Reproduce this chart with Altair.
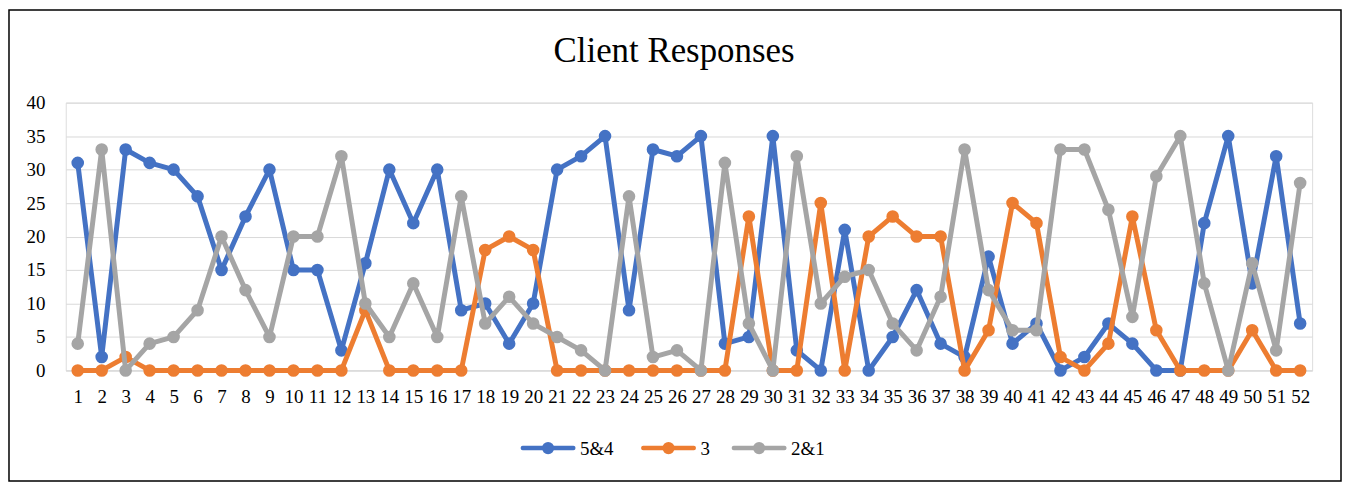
import altair as alt
import pandas as pd

points = list(range(1, 53))
s54 = [31, 2, 33, 31, 30, 26, 15, 23, 30, 15, 15, 3, 16, 30, 22, 30, 9, 10, 4, 10,
       30, 32, 35, 9, 33, 32, 35, 4, 5, 35, 3, 0, 21, 0, 5, 12, 4, 2, 17, 4,
       7, 0, 2, 7, 4, 0, 0, 22, 35, 13, 32, 7]
s3 = [0, 0, 2, 0, 0, 0, 0, 0, 0, 0, 0, 0, 9, 0, 0, 0, 0, 18, 20, 18,
      0, 0, 0, 0, 0, 0, 0, 0, 23, 0, 0, 25, 0, 20, 23, 20, 20, 0, 6, 25,
      22, 2, 0, 4, 23, 6, 0, 0, 0, 6, 0, 0]
s21 = [4, 33, 0, 4, 5, 9, 20, 12, 5, 20, 20, 32, 10, 5, 13, 5, 26, 7, 11, 7,
       5, 3, 0, 26, 2, 3, 0, 31, 7, 0, 32, 10, 14, 15, 7, 3, 11, 33, 12, 6,
       6, 33, 33, 24, 8, 29, 35, 13, 0, 16, 3, 28]
series_names = ["5&4", "3", "2&1"]
series_colors = ["#4472C4", "#ED7D31", "#A5A5A5"]
y_ticks = [0, 5, 10, 15, 20, 25, 30, 35, 40]

rows = []
for name, vals in zip(series_names, [s54, s3, s21]):
    for p, v in zip(points, vals):
        rows.append({"Point": p, "Series": name, "Value": v})
df = pd.DataFrame(rows)
legend_df = pd.DataFrame({"Series": series_names,
                          "Idx": list(range(len(series_names)))})

W, H = 1252, 269
FONT = "Liberation Serif"

color_scale = alt.Scale(domain=series_names, range=series_colors)

x_enc = alt.X("Point:O", title=None,
              axis=alt.Axis(labelAngle=0, labelOverlap=False, labelFont=FONT,
                            labelFontSize=19, labelColor="black", ticks=False,
                            tickSize=0, labelPadding=17, domainColor="#D9D9D9",
                            domainWidth=1, grid=False))
y_enc = alt.Y("Value:Q", title=None,
              scale=alt.Scale(domain=[0, 40], nice=False),
              axis=alt.Axis(values=y_ticks, labelFont=FONT, labelFontSize=19,
                            labelColor="black", ticks=False, tickSize=0,
                            labelPadding=21, domain=False, gridColor="#D9D9D9",
                            gridWidth=1))

base = alt.Chart(df)
layers = []
for name in series_names:
    sub = base.transform_filter(alt.datum.Series == name)
    line = sub.mark_line(strokeWidth=5, strokeCap="round", strokeJoin="round").encode(
        x=x_enc, y=y_enc,
        color=alt.Color("Series:N", scale=color_scale, legend=None))
    pts = sub.mark_point(filled=True, size=160, opacity=1).encode(
        x=x_enc, y=y_enc,
        color=alt.Color("Series:N", scale=color_scale, legend=None))
    layers += [line, pts]
border = alt.Chart(pd.DataFrame({"a": [0]})).mark_rect(
    fillOpacity=0, stroke="black", strokeWidth=1.5
).encode(x=alt.value(-57), x2=alt.value(1281), y=alt.value(-93), y2=alt.value(380))
layers.append(border)
main = alt.layer(*layers)

# legend (line + marker + label per series), placed below the plot
leg_x = alt.X("Idx:Q", axis=None,
              scale=alt.Scale(domain=[0, 1, 2], range=[484.5, 605.5, 696.5],
                              nice=False, zero=False))
leg_color = alt.Color("Series:N", scale=color_scale, legend=None)
leg_base = alt.Chart(legend_df)
leg_line = leg_base.mark_tick(orient="horizontal", size=55, thickness=4.5,
                              opacity=1, cornerRadius=2).encode(
    x=leg_x, y=alt.value(347), color=leg_color)
leg_pt = leg_base.mark_point(filled=True, size=150, opacity=1).encode(
    x=leg_x, y=alt.value(347), color=leg_color)
leg_txt = leg_base.mark_text(align="left", baseline="middle", dx=32, dy=1,
                             font=FONT, fontSize=19, color="black").encode(
    x=leg_x, y=alt.value(347), text="Series:N")
legend_layer = alt.layer(leg_line, leg_pt, leg_txt)

chart = alt.layer(main, legend_layer).resolve_scale(
    x="independent", color="shared"
).properties(
    width=W, height=H,
    title=alt.Title("Client Responses", font=FONT, fontSize=35, fontWeight="normal",
                    color="black", anchor="middle", dx=-15, offset=-88,
                    baseline="alphabetic"),
    autosize=alt.AutoSizeParams(type="none"),
    padding={"left": 58, "top": 94, "right": 30, "bottom": 112},
).configure_view(stroke=None).configure(background="white")

chart.save("out.html", embed_options={"renderer": "svg", "actions": False})
